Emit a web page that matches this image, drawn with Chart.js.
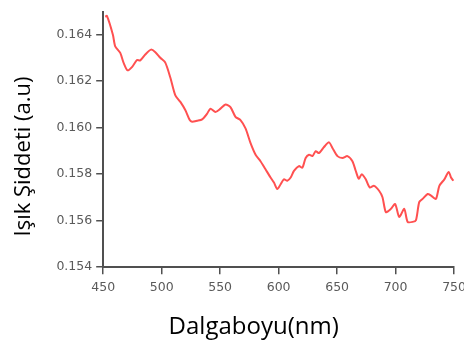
<!DOCTYPE html>
<html>
<head>
<meta charset="utf-8">
<script src="https://cdn.jsdelivr.net/npm/chart.js@4"></script>
<style>
  html, body { margin: 0; padding: 0; background: #fff; overflow: hidden; }
  #wrap { width: 464px; height: 346px; overflow: hidden; }
</style>
</head>
<body>
<div id="wrap"><canvas id="chart" width="472" height="346"></canvas></div>
<script>
// wavelength (nm)
var wavelengths = [451.7, 453.2, 458.3, 460.3, 464.6, 467.4, 470.8, 474.6, 478.9, 481.7,
  486.0, 490.9, 494.6, 498.8, 503.1, 507.4, 511.7, 516.0, 520.3, 524.0,
  526.0, 530.3, 534.6, 538.9, 541.7, 546.0, 550.3, 554.6, 558.8, 563.1,
  567.4, 571.7, 576.0, 580.3, 584.5, 588.8, 593.1, 596.0, 598.9, 601.7,
  604.5, 607.4, 610.3, 613.1, 617.4, 620.3, 623.1, 626.0, 628.9, 631.7,
  634.5, 638.8, 643.1, 646.0, 650.3, 654.6, 658.8, 663.1, 665.9, 668.5,
  671.1, 674.5, 677.9, 681.6, 685.9, 688.8, 691.7, 696.0, 699.6, 703.1,
  707.4, 710.3, 714.6, 717.4, 720.2, 723.1, 727.4, 730.3, 734.5, 737.4,
  741.7, 745.4, 747.4, 749.4];
// light intensity (a.u)
var intensity = [0.16478, 0.16481, 0.16400, 0.16350, 0.16322, 0.16280, 0.16247, 0.16261, 0.16291, 0.16290,
  0.16315, 0.16336, 0.16325, 0.16301, 0.16280, 0.16216, 0.16139, 0.16111, 0.16075, 0.16033,
  0.16026, 0.16030, 0.16036, 0.16061, 0.16082, 0.16068, 0.16082, 0.16100, 0.16089, 0.16047,
  0.16033, 0.15997, 0.15934, 0.15884, 0.15856, 0.15821, 0.15786, 0.15764, 0.15736, 0.15757,
  0.15778, 0.15772, 0.15786, 0.15814, 0.15835, 0.15828, 0.15870, 0.15884, 0.15878, 0.15899,
  0.15891, 0.15917, 0.15937, 0.15913, 0.15878, 0.15870, 0.15878, 0.15856, 0.15815, 0.15781,
  0.15800, 0.15778, 0.15743, 0.15750, 0.15729, 0.15701, 0.15637, 0.15651, 0.15672, 0.15616,
  0.15651, 0.15595, 0.15595, 0.15602, 0.15680, 0.15694, 0.15715, 0.15708, 0.15694, 0.15750,
  0.15778, 0.15810, 0.15786, 0.15772];

var xTicks = [450, 500, 550, 600, 650, 700, 750];
var yTicks = [0.154, 0.156, 0.158, 0.160, 0.162, 0.164];

var axisGray = '#505050';
var tickFont = { family: "'DejaVu Sans', sans-serif", size: 12.5 };

new Chart(document.getElementById('chart'), {
  type: 'line',
  data: {
    datasets: [{
      data: wavelengths.map(function (w, i) { return { x: w, y: intensity[i] }; }),
      borderColor: 'rgb(255, 80, 80)',
      borderWidth: 2,
      pointRadius: 0,
      tension: 0.25,
      fill: false
    }]
  },
  options: {
    responsive: false,
    animation: false,
    layout: { padding: { left: 11, top: 0, right: 0, bottom: 0 } },
    plugins: { legend: { display: false }, tooltip: { enabled: false } },
    scales: {
      x: {
        type: 'linear',
        min: 450,
        max: 750,
        afterBuildTicks: function (axis) { axis.ticks = xTicks.map(function (v) { return { value: v }; }); },
        ticks: { color: '#5a5a5a', font: tickFont, padding: 6, maxRotation: 0 },
        grid: { drawOnChartArea: false, drawTicks: true, tickLength: 7, color: axisGray, lineWidth: 1.5 },
        border: { color: axisGray, width: 2 },
        title: {
          display: true, text: 'Dalgaboyu(nm)        ', color: '#000',
          font: { family: "'Open Sans', sans-serif", size: 24 },
          padding: { top: 12, bottom: 4 }
        }
      },
      y: {
        min: 0.154,
        max: 0.165,
        afterBuildTicks: function (axis) { axis.ticks = yTicks.map(function (v) { return { value: v }; }); },
        ticks: {
          color: '#5a5a5a', font: tickFont, padding: 4,
          callback: function (v) { return v.toFixed(3); }
        },
        grid: { drawOnChartArea: false, drawTicks: true, tickLength: 7, color: axisGray, lineWidth: 1.5 },
        border: { color: axisGray, width: 2 },
        title: {
          display: true, text: 'Işık Şiddeti (a.u)      ', color: '#000',
          font: { family: "'Open Sans', sans-serif", size: 22 },
          padding: { top: 0, bottom: 15 }
        }
      }
    }
  }
});
</script>
</body>
</html>
